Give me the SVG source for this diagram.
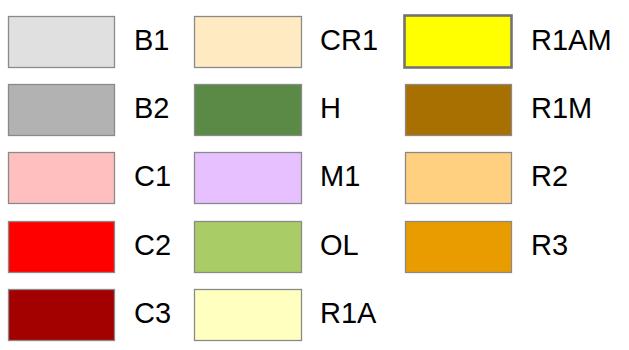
<svg xmlns="http://www.w3.org/2000/svg" width="629" height="350" viewBox="0 0 629 350">
  <style>
    .sw { stroke: #8a8a8a; stroke-width: 1.3; }
    .sw-strong { stroke: #737373; stroke-width: 2.6; }
    .lbl { font-family: "Liberation Sans", Arial, sans-serif; font-size: 29px; fill: #000; }
  </style>
  <rect width="629" height="350" fill="#ffffff"/>

  <!-- column 1 -->
  <g id="B1"><rect class="sw" x="8.5" y="16.5" width="106" height="51" fill="#e0e0e0"/><text class="lbl" x="134" y="49.5">B1</text></g>
  <g id="B2"><rect class="sw" x="8.5" y="84.5" width="106" height="51" fill="#b2b2b2"/><text class="lbl" x="134" y="117.5">B2</text></g>
  <g id="C1"><rect class="sw" x="8.5" y="152.5" width="106" height="51" fill="#ffbfbf"/><text class="lbl" x="134" y="185.5">C1</text></g>
  <g id="C2"><rect class="sw" x="8.5" y="221.5" width="106" height="51" fill="#ff0000"/><text class="lbl" x="134" y="254.5">C2</text></g>
  <g id="C3"><rect class="sw" x="8.5" y="289.5" width="106" height="51" fill="#a30000"/><text class="lbl" x="134" y="322.5">C3</text></g>

  <!-- column 2 -->
  <g id="CR1"><rect class="sw" x="194.5" y="16.5" width="107" height="51" fill="#ffeac1"/><text class="lbl" x="320" y="49.5">CR1</text></g>
  <g id="H"><rect class="sw" x="194.5" y="84.5" width="107" height="51" fill="#5a8a46"/><text class="lbl" x="320" y="117.5">H</text></g>
  <g id="M1"><rect class="sw" x="194.5" y="152.5" width="107" height="51" fill="#e6c0ff"/><text class="lbl" x="320" y="185.5">M1</text></g>
  <g id="OL"><rect class="sw" x="194.5" y="221.5" width="107" height="51" fill="#aacc66"/><text class="lbl" x="320" y="254.5">OL</text></g>
  <g id="R1A"><rect class="sw" x="194.5" y="289.5" width="107" height="51" fill="#ffffc0"/><text class="lbl" x="320" y="322.5">R1A</text></g>

  <!-- column 3 -->
  <g id="R1AM"><rect class="sw-strong" x="404.5" y="15.5" width="107" height="52" fill="#ffff00"/><text class="lbl" x="531" y="49.5">R1AM</text></g>
  <g id="R1M"><rect class="sw" x="405.5" y="84.5" width="106" height="51" fill="#a87000"/><text class="lbl" x="531" y="117.5">R1M</text></g>
  <g id="R2"><rect class="sw" x="405.5" y="152.5" width="106" height="51" fill="#ffd080"/><text class="lbl" x="531" y="185.5">R2</text></g>
  <g id="R3"><rect class="sw" x="405.5" y="221.5" width="106" height="51" fill="#e89c00"/><text class="lbl" x="531" y="254.5">R3</text></g>

  <g id="connectors"/>
</svg>
